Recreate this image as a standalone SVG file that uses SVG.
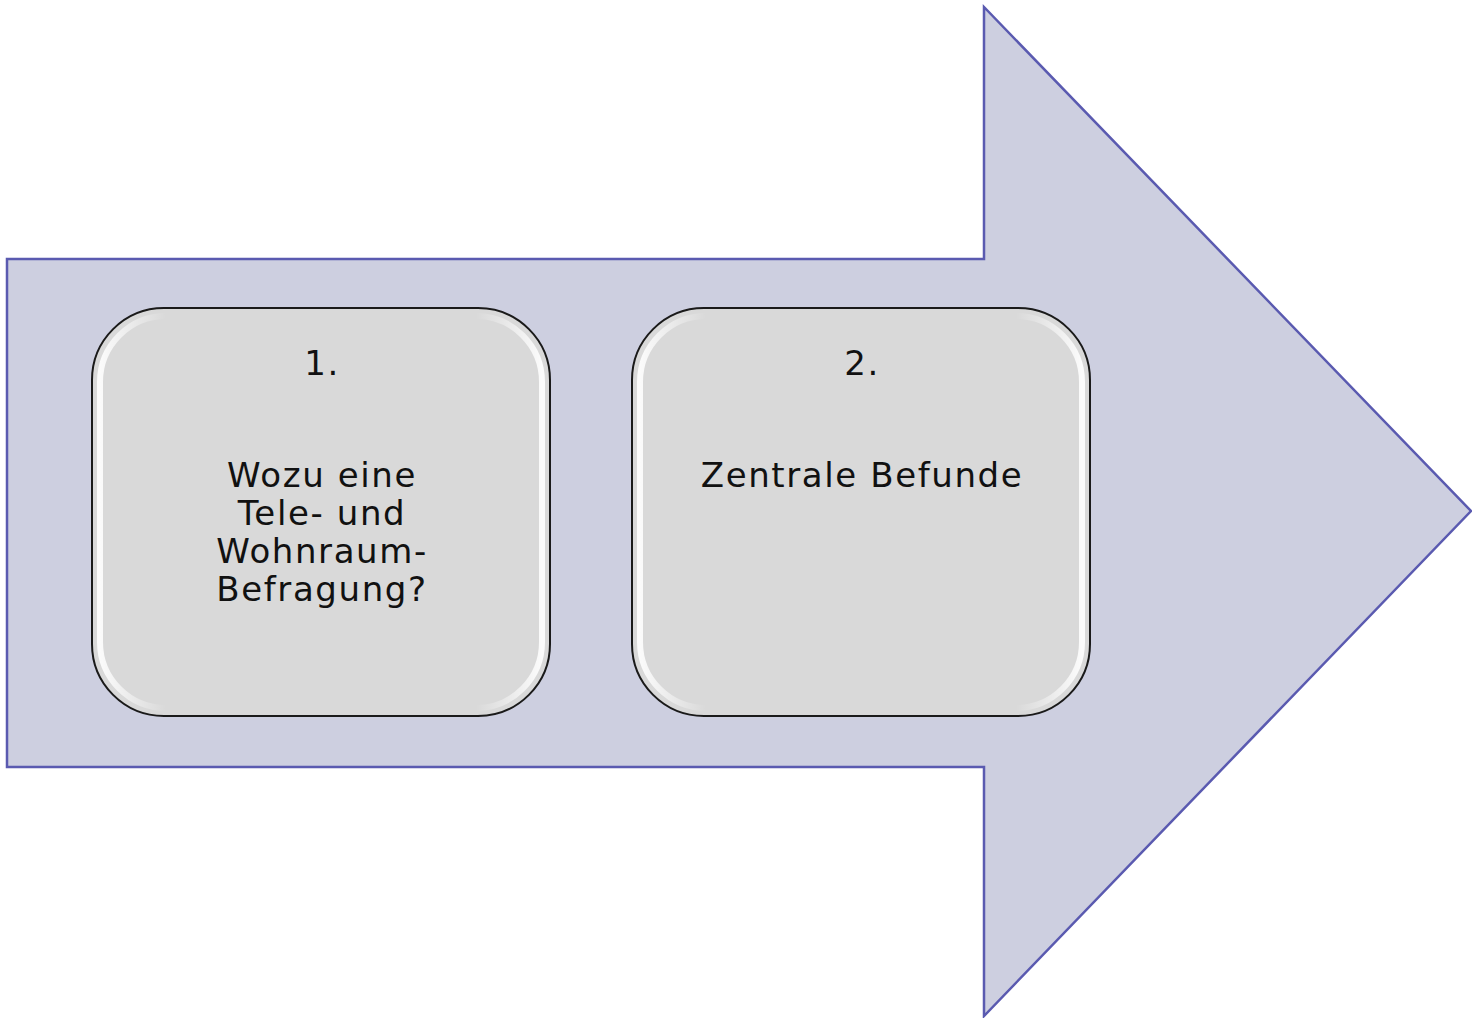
<svg xmlns="http://www.w3.org/2000/svg" width="1472" height="1018" viewBox="0 0 1472 1018">
<style>
.box{fill:#d9d9d9;stroke:#1a1a1a;stroke-width:2}
.t{font-family:"DejaVu Sans",Verdana,sans-serif;font-size:34px;letter-spacing:1.6px;fill:#111;text-anchor:middle}
</style>
<defs>
<linearGradient id="g" x1="0" y1="0" x2="1" y2="0">
<stop offset="0" stop-color="#fff" stop-opacity="0.9"/>
<stop offset="0.15" stop-color="#fff" stop-opacity="0"/>
<stop offset="0.85" stop-color="#fff" stop-opacity="0"/>
<stop offset="1" stop-color="#fff" stop-opacity="0.9"/>
</linearGradient>
</defs>
<rect width="1472" height="1018" fill="#fff"/>
<g id="arrow">
<path d="M7 259 L984 259 L984 7 L1471 511 L984 1016 L984 767 L7 767 Z" fill="#cdcfe0" stroke="#5a5ab0" stroke-width="2.5"/>
</g>
<g id="node1">
<rect class="box" x="92" y="308" width="458" height="408" rx="72"/>
<rect x="100" y="316" width="442" height="392" rx="66" fill="none" stroke="url(#g)" stroke-width="6"/>
<text class="t" x="322" y="375">1.</text>
<text class="t" x="322" y="487">Wozu eine</text>
<text class="t" x="322" y="525">Tele- und</text>
<text class="t" x="322" y="563">Wohnraum-</text>
<text class="t" x="322" y="601">Befragung?</text>
</g>
<g id="node2">
<rect class="box" x="632" y="308" width="458" height="408" rx="72"/>
<rect x="640" y="316" width="442" height="392" rx="66" fill="none" stroke="url(#g)" stroke-width="6"/>
<text class="t" x="862" y="375">2.</text>
<text class="t" x="862" y="487">Zentrale Befunde</text>
</g>
<g id="connectors"/>
</svg>
